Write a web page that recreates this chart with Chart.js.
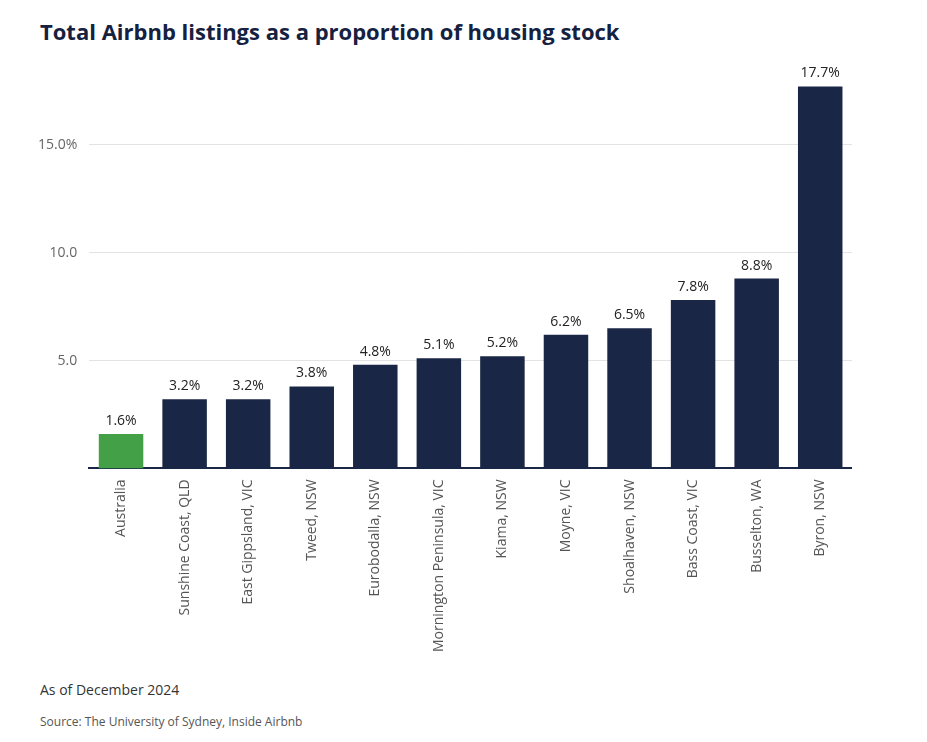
<!DOCTYPE html>
<html><head><meta charset="utf-8">
<script src="https://cdn.jsdelivr.net/npm/chart.js@4"></script>
<style>
body{margin:0;background:#fff;font-family:"Open Sans",sans-serif;}
#title{position:absolute;left:40px;top:16px;font-size:22px;font-weight:700;color:#15213f;}
#wrap{position:absolute;left:26px;top:50px;width:826px;height:605px;}
#note{position:absolute;left:40px;top:680px;font-size:14px;color:#333;}
#src{position:absolute;left:40px;top:713px;font-size:12px;color:#555;}
</style></head><body>
<div id="title">Total Airbnb listings as a proportion of housing stock</div>
<div id="wrap"><canvas id="c"></canvas></div>
<div id="note">As of December 2024</div>
<div id="src">Source: The University of Sydney, Inside Airbnb</div>
<script>
const categories = ["Australia","Sunshine Coast, QLD","East Gippsland, VIC","Tweed, NSW","Eurobodalla, NSW","Mornington Peninsula, VIC","Kiama, NSW","Moyne, VIC","Shoalhaven, NSW","Bass Coast, VIC","Busselton, WA","Byron, NSW"];
const shares = [1.6,3.2,3.2,3.8,4.8,5.1,5.2,6.2,6.5,7.8,8.8,17.7];
const yTicks = [5,10,15];
const colors = categories.map((c, i) => i === 0 ? "#43a047" : "#1a2646");

const valueLabels = {
  id: "valueLabels",
  afterDatasetsDraw(chart) {
    const ctx = chart.ctx;
    ctx.save();
    ctx.font = "14px 'Open Sans'";
    ctx.fillStyle = "#222";
    ctx.textAlign = "center";
    ctx.textBaseline = "bottom";
    chart.getDatasetMeta(0).data.forEach((bar, i) => {
      ctx.fillText(shares[i].toFixed(1) + "%", bar.x, bar.y - 6);
    });
    ctx.restore();
  }
};

new Chart(document.getElementById("c"), {
  type: "bar",
  data: { labels: categories, datasets: [{ data: shares, backgroundColor: colors, categoryPercentage: 0.7, barPercentage: 1 }] },
  options: {
    responsive: true, maintainAspectRatio: false, animation: false,
    layout: { padding: { top: 30, right: 0 } },
    plugins: { legend: { display: false }, tooltip: { enabled: false } },
    scales: {
      x: {
        grid: { display: false },
        border: { color: "#1a2646", width: 2 },
        ticks: { color: "#555", font: { size: 14, family: "Open Sans" }, minRotation: 90, maxRotation: 90 }
      },
      y: {
        min: 0, max: 18,
        afterBuildTicks: s => { s.ticks = yTicks.map(v => ({ value: v })); },
        border: { display: false },
        grid: { color: "#e3e3e3", drawTicks: false },
        ticks: { color: "#666", padding: 12, font: { size: 14, family: "Open Sans" },
          callback: v => v === 15 ? "15.0%" : v.toFixed(1) }
      }
    }
  },
  plugins: [valueLabels]
});
</script>
</body></html>
